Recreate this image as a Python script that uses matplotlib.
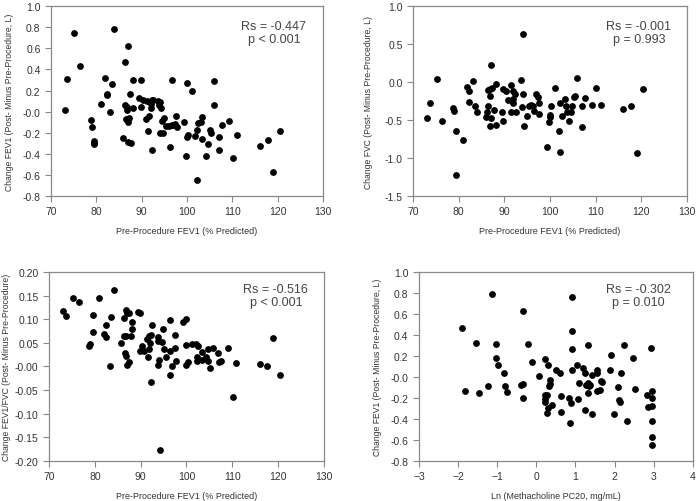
import numpy as np
import matplotlib
matplotlib.use('Agg')
import matplotlib.pyplot as plt
from matplotlib.ticker import FormatStrFormatter

plt.rcParams['font.family'] = ['Liberation Sans', 'DejaVu Sans']

# Panel A: Change FEV1 vs Pre-Procedure FEV1
a_x = [73.0, 73.6, 75.1, 76.5, 78.8, 79.0, 79.4, 79.4, 79.4, 81.0, 82.0, 82.3, 82.4, 83.1,
       83.4, 84.0, 85.8, 86.3, 86.3, 86.5, 86.8, 86.8, 87.0, 87.0, 87.1, 87.1, 87.3, 87.4,
       87.7, 88.2, 88.2, 89.4, 89.8, 89.9, 90.4, 90.9, 91.1, 91.4, 91.7, 92.0, 92.0, 92.2,
       92.2, 92.6, 93.7, 93.9, 94.0, 94.1, 94.3, 94.5, 94.7, 95.0, 95.4, 96.0, 96.3, 96.6,
       96.8, 97.0, 97.4, 97.5, 97.7, 99.3, 99.8, 100.0, 100.1, 100.3, 101.2, 101.8, 102.2,
       102.3, 102.5, 103.2, 103.4, 103.4, 104.2, 104.7, 105.0, 105.3, 106.0, 106.0, 107.1,
       107.1, 107.8, 109.3, 110.2, 111.0, 116.2, 117.8, 119.0, 120.5]
a_y = [0.02, 0.31, 0.75, 0.43, -0.08, -0.15, -0.28, -0.30, -0.31, 0.07, 0.32, 0.16, 0.17, 0.00,
       0.26, 0.78, -0.25, 0.47, 0.06, -0.07, 0.04, 0.02, -0.07, -0.10, 0.62, -0.29, -0.06, 0.17,
       -0.30, 0.30, 0.03, 0.13, 0.30, 0.04, 0.11, -0.07, 0.10, -0.18, -0.04, 0.03, 0.07, 0.11,
       -0.36, 0.11, 0.10, 0.06, -0.20, 0.09, 0.03, -0.09, -0.20, -0.06, -0.14, -0.14, -0.34, 0.30,
       -0.13, -0.13, -0.12, -0.04, -0.15, -0.10, -0.42, 0.27, -0.24, -0.22, 0.20, -0.23, -0.17,
       -0.65, -0.11, -0.10, -0.05, -0.26, -0.42, -0.31, -0.17, -0.20, 0.29, 0.06, -0.24,
       -0.36, -0.13, -0.09, -0.44, -0.22, -0.33, -0.27, -0.57, -0.18]

# Panel B: Change FVC vs Pre-Procedure FEV1
b_x = [73.1, 73.7, 75.2, 76.4, 78.7, 79.0, 79.4, 79.4, 81.0, 81.9, 82.2, 82.3, 83.2, 83.5,
       84.0, 85.9, 86.3, 86.4, 86.4, 86.8, 86.9, 86.8, 87.1, 87.2, 87.4, 87.7, 88.1, 88.2,
       89.4, 89.8, 89.8, 90.3, 90.9, 91.4, 91.5, 91.9, 91.9, 92.0, 92.3, 92.6, 93.6, 93.9,
       94.1, 94.2, 94.4, 95.0, 95.4, 95.8, 96.3, 96.6, 96.9, 97.3, 97.5, 97.7, 99.4, 99.8,
       100.0, 100.1, 100.2, 101.2, 102.0, 102.2, 102.3, 102.6, 103.4, 103.5, 103.7, 104.2,
       104.7, 104.9, 105.3, 105.6, 105.9, 107.0, 107.1, 107.7, 109.2, 110.2, 111.1, 116.1,
       117.7, 119.0, 120.4]
b_y = [-0.47, -0.28, 0.04, -0.51, -0.34, -0.38, -0.65, -1.23, -0.76, -0.07, -0.12, -0.26, 0.01, -0.31,
       -0.40, -0.46, -0.40, -0.32, -0.11, -0.09, -0.18, -0.58, -0.47, 0.23, -0.08, -0.37, -0.56, -0.02,
       -0.39, -0.09, -0.51, -0.12, -0.23, -0.40, -0.04, -0.28, -0.22, -0.12, -0.15, -0.40, 0.03, -0.33,
       -0.15, 0.63, -0.58, -0.45, -0.32, -0.30, -0.32, -0.38, -0.16, -0.20, -0.42, -0.27, -0.86, -0.53,
       -0.46, -0.43, -0.31, -0.08, -0.65, -0.27, -0.92, -0.45, -0.22, -0.31, -0.40, -0.51,
       -0.40, -0.31, -0.20, -0.18, 0.05, -0.31, -0.59, -0.21, -0.30, -0.08, -0.30, -0.36,
       -0.31, -0.93, -0.09]

# Panel C: Change FEV1/FVC vs Pre-Procedure FEV1
c_x = [73.1, 73.7, 75.2, 76.5, 78.7, 79.0, 79.5, 79.5, 81.0, 82.0, 82.4, 82.4, 83.3, 83.5,
       84.1, 85.8, 86.4, 86.4, 86.5, 86.8, 86.9, 86.9, 87.1, 87.1, 87.5, 87.5, 87.8, 88.2,
       88.2, 89.4, 89.8, 89.8, 90.4, 90.7, 91.3, 91.5, 91.8, 91.9, 92.1, 92.2, 92.3, 92.5,
       93.7, 93.8, 93.8, 93.9, 94.2, 94.6, 94.9, 95.1, 95.6, 96.3, 96.3, 96.4, 96.9, 97.5,
       97.5, 97.7, 99.3, 99.8, 99.9, 100.0, 100.3, 101.3, 102.1, 102.2, 102.3, 102.6, 103.4,
       103.4, 104.2, 104.7, 104.8, 105.1, 105.8, 106.9, 107.0, 107.6, 109.1, 110.1, 110.9,
       116.0, 117.6, 118.8, 120.3]
c_y = [0.117, 0.106, 0.146, 0.137, 0.044, 0.047, 0.109, 0.074, 0.144, 0.069, 0.063, 0.088, 0.001, 0.104,
       0.162, 0.049, 0.103, 0.064, 0.028, 0.119, 0.023, 0.064, 0.114, 0.003, 0.113, 0.009, 0.064, 0.079,
       0.094, 0.116, 0.113, 0.033, 0.044, 0.033, 0.059, 0.021, 0.064, 0.038, 0.050, -0.032, 0.066, 0.088,
       0.063, 0.055, 0.003, 0.014, -0.176, 0.052, 0.079, 0.037, 0.021, 0.033, -0.019, 0.098, 0.002, 0.066,
       0.040, 0.011, 0.094, 0.100, 0.003, 0.045, 0.010, 0.047, 0.047, 0.021, 0.012, 0.043, 0.030,
       0.014, 0.021, 0.012, 0.036, -0.004, 0.039, 0.028, 0.010, 0.012, 0.040, -0.065, 0.007,
       0.005, 0.002, 0.061, -0.017]

# Panel D: Change FEV1 vs Ln(Methacholine PC20)
d_x = [-1.90, -1.82, -1.55, -1.46, -1.23, -1.13, -1.04, -1.04, -0.99, -0.82, -0.79, -0.74, -0.39,
       -0.35, -0.35, -0.33, -0.21, -0.12, 0.07, 0.21, 0.21, 0.22, 0.23, 0.27, 0.27, 0.29, 0.31,
       0.32, 0.34, 0.36, 0.39, 0.50, 0.60, 0.62, 0.62, 0.84, 0.86, 0.89, 0.90, 0.91, 0.91, 0.91,
       1.04, 1.07, 1.08, 1.19, 1.24, 1.24, 1.28, 1.31, 1.31, 1.33, 1.35, 1.37, 1.42, 1.43, 1.54,
       1.55, 1.56, 1.63, 1.66, 1.68, 1.89, 1.91, 1.98, 2.10, 2.11, 2.15, 2.16, 2.25, 2.32, 2.48,
       2.51, 2.84, 2.85, 2.94, 2.95, 2.95, 2.95, 2.95, 2.95, 2.95]
d_y = [0.47, -0.13, 0.32, -0.15, -0.09, 0.79, 0.31, 0.18, 0.11, 0.04, -0.09, -0.14, -0.08,
       0.63, -0.07, -0.20, 0.31, 0.14, 0.01, 0.17, -0.17, -0.21, -0.24, -0.17, -0.34, -0.30, 0.11,
       -0.09, -0.03, -0.07, -0.27, 0.07, 0.04, -0.18, -0.33, -0.20, -0.44, -0.25, 0.76, 0.44, 0.27, 0.07,
       0.11, -0.21, -0.06, 0.09, -0.31, 0.04, -0.08, 0.30, -0.15, -0.06, -0.09, -0.08, 0.02, -0.35, 0.07,
       0.04, -0.13, -0.12, -0.04, -0.05, 0.07, 0.21, -0.35, -0.10, -0.22, -0.24, 0.04, 0.30, -0.42, 0.18,
       -0.11, -0.17, -0.29, 0.28, -0.13, -0.20, -0.28, -0.42, -0.57, -0.65]

stats = ["Rs = -0.447\np < 0.001", "Rs = -0.001\np = 0.993",
         "Rs = -0.516\np < 0.001", "Rs = -0.302\np = 0.010"]

xlab_fev = "Pre-Procedure FEV1 (% Predicted)"
panels = [
    (a_x, a_y, [0.0732, 0.6076, 0.390, 0.378], (70, 130), np.arange(70, 131, 10),
     (-0.8, 1.0), np.arange(-0.8, 1.01, 0.2), '%.1f', xlab_fev,
     "Change FEV1 (Post- Minus Pre-Procedure, L)", (0.82, 0.86), 6),
    (b_x, b_y, [0.5925, 0.6076, 0.393, 0.378], (70, 130), np.arange(70, 131, 10),
     (-1.5, 1.0), np.arange(-1.5, 1.01, 0.5), '%.1f', xlab_fev,
     "Change FVC (Post- Minus Pre-Procedure, L)", (0.825, 0.86), 8),
    (c_x, c_y, [0.0703, 0.0797, 0.3945, 0.3765], (70, 130), np.arange(70, 131, 10),
     (-0.2, 0.2), np.arange(-0.2, 0.201, 0.05), '%.2f', xlab_fev,
     "Change FEV1/FVC (Post- Minus Pre-Procedure)", (0.825, 0.875), 3),
    (d_x, d_y, [0.601, 0.0797, 0.393, 0.3765], (-3, 4), np.arange(-3, 5, 1),
     (-0.8, 1.0), np.arange(-0.8, 1.01, 0.2), '%.1f', "Ln (Methacholine PC20, mg/mL)",
     "Change FEV1 (Post- Minus Pre-Procedure, L)", (0.80, 0.875), 6),
]

txt = '#333333'
fig = plt.figure(figsize=(6.97, 5.02), dpi=100)
for (x, y, pos, xl, xt, yl, yt, fmt, xlab, ylab, tpos, ypad), s in zip(panels, stats):
    ax = fig.add_axes(pos)
    ax.scatter(x, y, s=15, color='black', zorder=3)
    ax.set_xlim(*xl)
    ax.set_ylim(*yl)
    ax.set_xticks(xt)
    ax.set_yticks(yt)
    ax.yaxis.set_major_formatter(FormatStrFormatter(fmt))
    for sp in ax.spines.values():
        sp.set_color('#888888')
        sp.set_linewidth(0.9)
    ax.tick_params(direction='out', length=4, width=0.8, color='#888888',
                   labelsize=7.5, labelcolor=txt)
    ax.set_xlabel(xlab, fontsize=6.5, color=txt, labelpad=7)
    ax.set_ylabel(ylab, fontsize=6.2, color=txt, labelpad=ypad)
    ax.text(tpos[0], tpos[1], s, transform=ax.transAxes, ha='center', va='center',
            fontsize=9, color='#444444', linespacing=1.1)

fig.savefig("out.png", dpi=100)
